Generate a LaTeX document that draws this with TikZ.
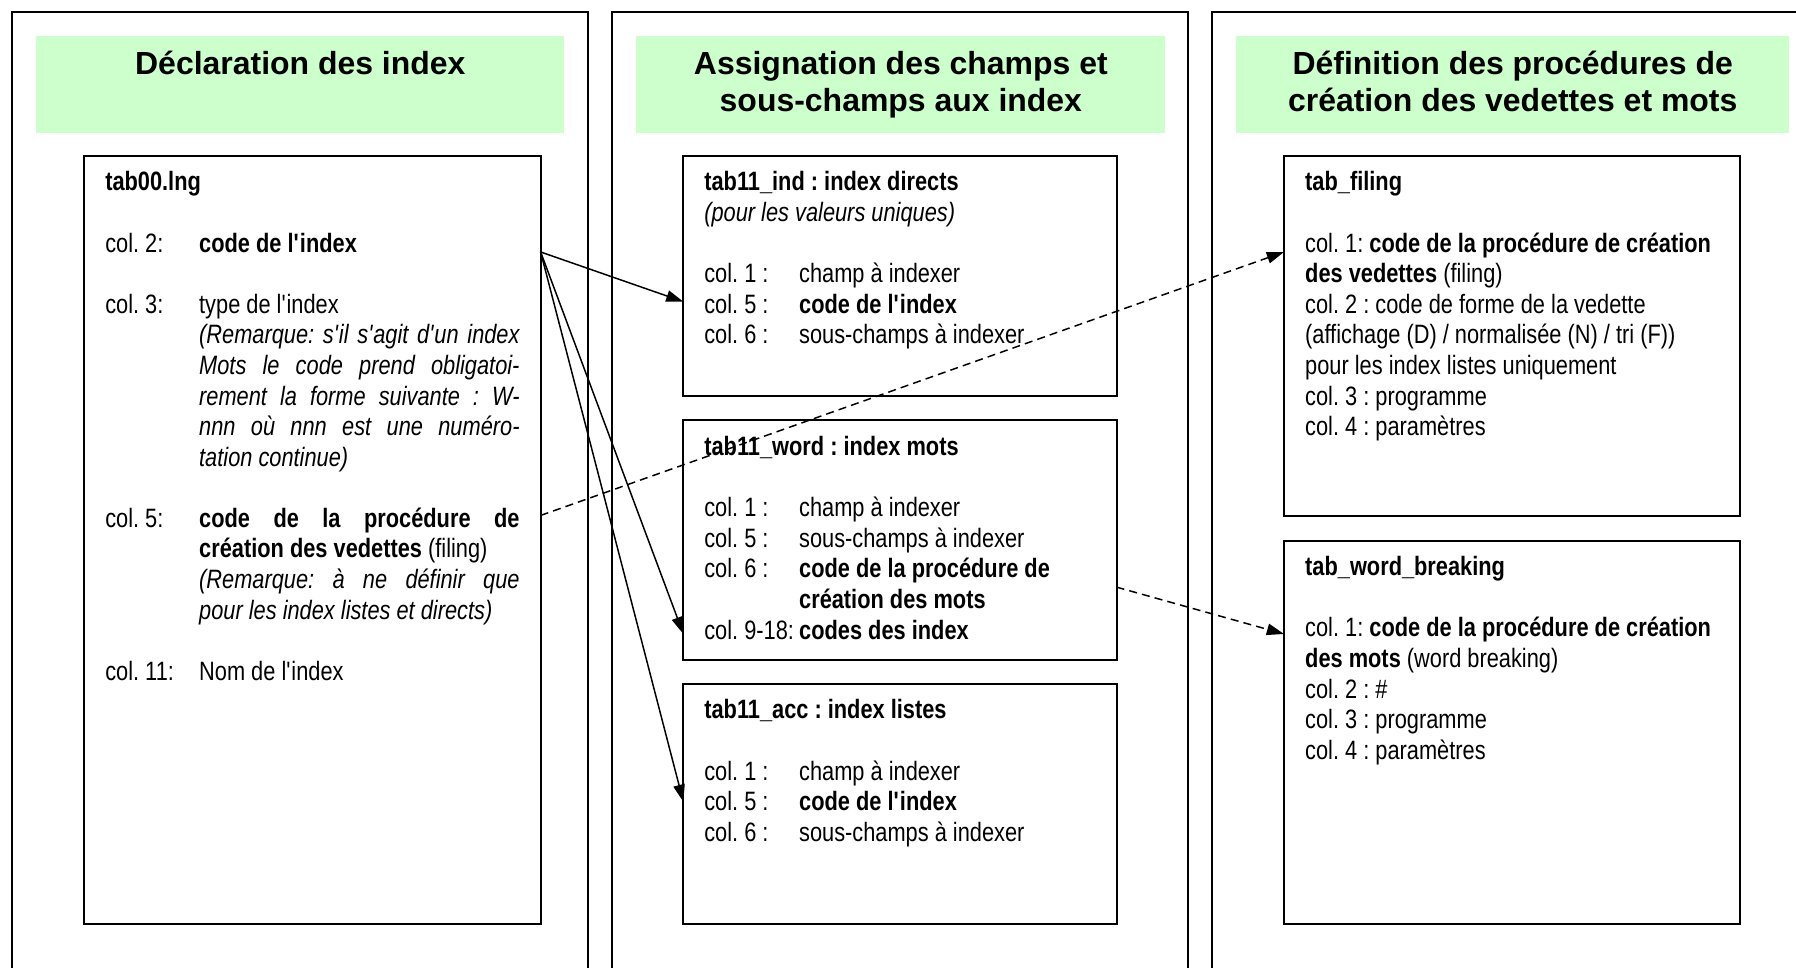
\documentclass[tikz,border=0pt]{standalone}
\usepackage{fontspec}
\usetikzlibrary{arrows.meta}

\setmainfont{Liberation Sans}
\newfontfamily\narrowfont{Liberation Sans}[FakeStretch=0.82]
\setlength{\parindent}{0pt}
\frenchspacing
\definecolor{headgreen}{RGB}{204,255,204}
\newcommand{\ap}{\textquotesingle}

\begin{document}
\begin{tikzpicture}[x=1pt,y=-1pt,
    panel/.style={draw, line width=1.8pt},
    heading/.style={inner sep=0pt, anchor=base, font=\fontsize{27.9}{32}\selectfont\bfseries},
    tabbox/.style={draw, line width=1.8pt, inner sep=0pt, outer sep=0pt, anchor=north west},
    tabtext/.style={inner sep=0pt, anchor=north west, text width=390pt,
        font=\narrowfont\fontsize{23.2}{26.7}\selectfont,
        execute at begin node={\spaceskip=5.3pt plus 3pt minus 1pt\relax}},
    link/.style={line width=1.3pt, -{Triangle[length=15pt,width=10pt]}},
    dashlink/.style={link, dash pattern=on 7pt off 4.5pt}]

    \useasboundingbox (0,0) rectangle (1568,845.1);
    \clip (0,0) rectangle (1568,845.1);

    % Panels
    \draw[panel] (10.7,10.2) rectangle (513.5,880);
    \draw[panel] (534.5,10.2) rectangle (1037.3,880);
    \draw[panel] (1058.2,10.2) rectangle (1600,880);

    % Headings
    \fill[headgreen] (31.7,31.4) rectangle (492.8,115.8);
    \fill[headgreen] (555.6,31.4) rectangle (1017.3,115.8);
    \fill[headgreen] (1079.3,31.4) rectangle (1562,115.8);
    \node[heading] (hdecl) at (262.2,65) {Déclaration des index};
    \node[heading] (hassign1) at (786.5,65) {Assignation des champs et};
    \node[heading] (hassign2) at (786.5,97) {sous-champs aux index};
    \node[heading] (hdef1) at (1320.7,65) {Définition des procédures de};
    \node[heading] (hdef2) at (1320.7,97) {création des vedettes et mots};

    % Declaration
    \node[tabbox, minimum width=398.7pt, minimum height=670.7pt] (tab00) at (73.3,136) {};
    \node[tabtext] (tab00txt) at (91.7,147.8) {\strut\textbf{tab00.lng}\\[26.7pt]
        \makebox[82pt][l]{col. 2:}\textbf{code de l\ap index}\\[26.7pt]
        \makebox[82pt][l]{col. 3:}type de l\ap index\\
        \hspace*{82pt}\makebox[279.7pt][s]{\itshape (Remarque: s\ap il s\ap agit d\ap un index}\\
        \hspace*{82pt}\makebox[279.7pt][s]{\itshape Mots le code prend obligatoi-}\\
        \hspace*{82pt}\makebox[279.7pt][s]{\itshape rement la forme suivante : W-}\\
        \hspace*{82pt}\makebox[279.7pt][s]{\itshape nnn où nnn est une numéro-}\\
        \hspace*{82pt}{\itshape tation continue)}\\[26.7pt]
        \makebox[82pt][l]{col. 5:}\makebox[279.7pt][s]{\bfseries code de la procédure de}\\
        \hspace*{82pt}\textbf{création des vedettes} (filing)\\
        \hspace*{82pt}\makebox[279.7pt][s]{\itshape (Remarque: à ne définir que}\\
        \hspace*{82pt}{\itshape pour les index listes et directs)}\\[26.7pt]
        \makebox[82pt][l]{col. 11:}Nom de l\ap index};

    % Assignation
    \node[tabbox, minimum width=378.2pt, minimum height=209.7pt] (tabind) at (596.6,136) {};
    \node[tabbox, minimum width=378.2pt, minimum height=209.5pt] (tabword) at (596.6,366.7) {};
    \node[tabbox, minimum width=378.2pt, minimum height=209.6pt] (tabacc) at (596.6,597.1) {};
    \node[tabtext] (tabindtxt) at (614.7,147.8) {\strut\textbf{tab11\_ind : index directs}\\
        {\itshape (pour les valeurs uniques)}\\[26.7pt]
        \makebox[82.8pt][l]{col. 1 :}champ à indexer\\
        \makebox[82.8pt][l]{col. 5 :}\textbf{code de l\ap index}\\
        \makebox[82.8pt][l]{col. 6 :}sous-champs à indexer};
    \node[tabtext] (tabwordtxt) at (614.7,378.8) {\strut\textbf{tab11\_word : index mots}\\[26.7pt]
        \makebox[82.8pt][l]{col. 1 :}champ à indexer\\
        \makebox[82.8pt][l]{col. 5 :}sous-champs à indexer\\
        \makebox[82.8pt][l]{col. 6 :}\textbf{code de la procédure de}\\
        \hspace*{82.8pt}\textbf{création des mots}\\
        \makebox[82.8pt][l]{col. 9-18:}\textbf{codes des index}};
    \node[tabtext] (tabacctxt) at (614.7,608.8) {\strut\textbf{tab11\_acc : index listes}\\[26.7pt]
        \makebox[82.8pt][l]{col. 1 :}champ à indexer\\
        \makebox[82.8pt][l]{col. 5 :}\textbf{code de l\ap index}\\
        \makebox[82.8pt][l]{col. 6 :}sous-champs à indexer};

    % Definition
    \node[tabbox, minimum width=398.3pt, minimum height=314.5pt] (tabfiling) at (1121,136) {};
    \node[tabbox, minimum width=398.3pt, minimum height=334.7pt] (tabwb) at (1121,472) {};
    \node[tabtext] (tabfilingtxt) at (1139.3,147.8) {\strut\textbf{tab\_filing}\\[26.7pt]
        col. 1: \textbf{code de la procédure de création}\\
        \textbf{des vedettes} (filing)\\
        col. 2 : code de forme de la vedette\\
        (affichage (D) / normalisée (N) / tri (F))\\
        pour les index listes uniquement\\
        col. 3 : programme\\
        col. 4 : paramètres};
    \node[tabtext] (tabwbtxt) at (1139.3,483.8) {\strut\textbf{tab\_word\_breaking}\\[26.7pt]
        col. 1: \textbf{code de la procédure de création}\\
        \textbf{des mots} (word breaking)\\
        col. 2 : \#\\
        col. 3 : programme\\
        col. 4 : paramètres};

    % Arrows
    \coordinate (codeout) at (tab00.east |- 0,220);
    \coordinate (filingout) at (tab00.east |- 0,450);
    \coordinate (motsout) at (tabword.east |- 0,512.6);
    \coordinate (indin) at (tabind.west |- 0,263.4);
    \coordinate (wordin) at (tabword.west |- 0,553.5);
    \coordinate (accin) at (tabacc.west |- 0,700);
    \coordinate (filingin) at (tabfiling.west |- 0,220);
    \coordinate (wbin) at (tabwb.west |- 0,553.5);
    \draw[link] (codeout) -- (indin);
    \draw[link] (codeout) -- (wordin);
    \draw[link] (codeout) -- (accin);
    \draw[dashlink] (filingout) -- (filingin);
    \draw[dashlink] (motsout) -- (wbin);
\end{tikzpicture}
\end{document}
